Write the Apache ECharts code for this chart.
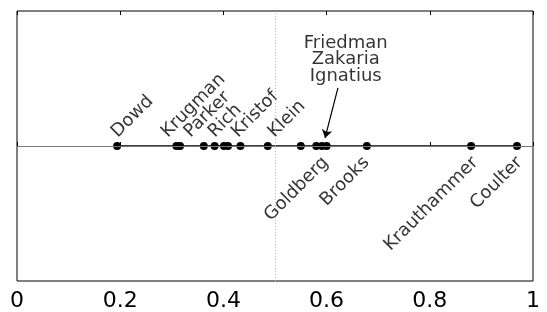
<!DOCTYPE html>
<html>
<head>
<meta charset="utf-8">
<script src="https://cdn.jsdelivr.net/npm/echarts@6/dist/echarts.min.js"></script>
<style>
html, body { margin: 0; background: #fff; }
#chart { width: 547px; height: 312px; }
</style>
</head>
<body>
<div id="chart"></div>
<script>
// columnist scores along one axis
var scores = [0.194, 0.309, 0.316, 0.362, 0.383, 0.401, 0.409, 0.433, 0.486,
              0.550, 0.580, 0.591, 0.600, 0.678, 0.880, 0.969];
// names written above the line, and where their text starts
var namesAbove = ['Dowd', 'Krugman', 'Parker', 'Rich', 'Kristof', 'Klein'];
var namesAboveX = [0.201, 0.298, 0.342, 0.389, 0.434, 0.505];
// names written below the line, and where their text ends
var namesBelow = ['Goldberg', 'Brooks', 'Krauthammer', 'Coulter'];
var namesBelowX = [0.586, 0.665, 0.876, 0.962];
// the crowded cluster gets a note with an arrow
var noteNames = ['Friedman', 'Zakaria', 'Ignatius'];
var noteTarget = 0.591;
var tickValues = [0, 0.2, 0.4, 0.6, 0.8, 1];
var tickLabels = ['0', '0.2', '0.4', '0.6', '0.8', '1'];

var FONT = 'DejaVu Sans';

function tickText(v) {
    for (var i = 0; i < tickValues.length; i++) {
        if (Math.abs(tickValues[i] - v) < 1e-6) return tickLabels[i];
    }
    return '';
}

var chart = echarts.init(document.getElementById('chart'));
var option = {
    animation: false,
    grid: {
        show: true,
        left: 17, right: 14, top: 11, bottom: 31,
        borderColor: '#000', borderWidth: 1,
        backgroundColor: '#fff'
    },
    xAxis: [
        {
            type: 'value', position: 'bottom',
            min: 0, max: 1, interval: 0.2,
            axisLine: { show: false },
            splitLine: { show: false },
            axisTick: { inside: true, length: 4, lineStyle: { color: '#000' } },
            axisLabel: {
                fontSize: 22, color: '#000', fontFamily: FONT, margin: 9,
                showMinLabel: true, showMaxLabel: true,
                formatter: tickText
            }
        },
        {
            type: 'value', position: 'top',
            min: 0, max: 1, interval: 0.2,
            axisLine: { show: false },
            splitLine: { show: false },
            axisTick: { inside: true, length: 4, lineStyle: { color: '#000' } },
            axisLabel: { show: false }
        }
    ],
    yAxis: { type: 'value', min: -1, max: 1, show: false },
    series: [
        {
            // zero line and the 0.5 marker
            type: 'scatter', data: [], silent: true,
            markLine: {
                silent: true, symbol: 'none', label: { show: false },
                data: [
                    { yAxis: 0, lineStyle: { color: '#777', width: 1, type: 'solid' } },
                    { xAxis: 0.5, lineStyle: { color: '#bbb', width: 1, type: [1, 2] } }
                ]
            }
        },
        {
            type: 'line',
            data: scores.map(function (v) { return [v, 0]; }),
            symbol: 'circle', symbolSize: 8,
            itemStyle: { color: '#000' },
            lineStyle: { color: '#000', width: 1.5 },
            z: 3
        },
        {
            type: 'scatter',
            data: namesAbove.map(function (n, i) { return { name: n, value: [namesAboveX[i], 0] }; }),
            symbolSize: 1, itemStyle: { color: 'rgba(0,0,0,0)' },
            label: {
                show: true, formatter: '{b}', position: [0.5, -4.5],
                rotate: 45, align: 'left', verticalAlign: 'bottom',
                fontSize: 18, fontFamily: FONT, color: '#000'
            },
            z: 4
        },
        {
            type: 'scatter',
            data: namesBelow.map(function (n, i) { return { name: n, value: [namesBelowX[i], 0] }; }),
            symbolSize: 1, itemStyle: { color: 'rgba(0,0,0,0)' },
            label: {
                show: true, formatter: '{b}', position: [0.5, 8],
                rotate: 45, align: 'right', verticalAlign: 'top',
                fontSize: 18, fontFamily: FONT, color: '#000'
            },
            z: 4
        },
        {
            type: 'scatter',
            data: [{ name: noteNames.join('\n'), value: [noteTarget + 0.046, 0.455] }],
            symbolSize: 1, itemStyle: { color: 'rgba(0,0,0,0)' },
            label: {
                show: true, formatter: '{b}', position: [0.5, 0.5],
                align: 'center', verticalAlign: 'bottom', lineHeight: 16.5,
                fontSize: 18, fontFamily: FONT, color: '#000'
            },
            markLine: {
                silent: true, label: { show: false },
                lineStyle: { color: '#000', width: 1.2, type: 'solid' },
                data: [[
                    { coord: [noteTarget + 0.031, 0.43], symbol: 'none' },
                    { coord: [noteTarget + 0.006, 0.06], symbol: 'arrow', symbolSize: 8 }
                ]]
            },
            z: 4
        }
    ]
};
chart.setOption(option);
</script>
</body>
</html>
